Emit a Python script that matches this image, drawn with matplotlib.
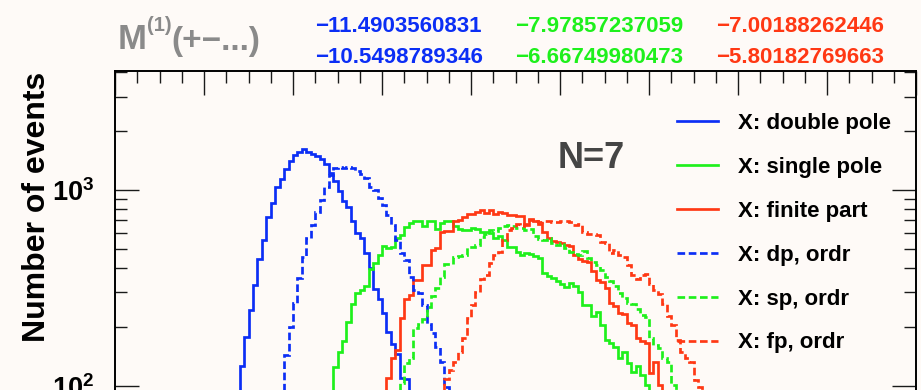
import numpy as np
import matplotlib
matplotlib.use("Agg")
import matplotlib.pyplot as plt
from matplotlib.ticker import MultipleLocator, LogLocator, NullFormatter, LogFormatterMathtext

plt.rcParams['font.family'] = ['Liberation Sans', 'DejaVu Sans']
plt.rcParams['font.weight'] = 'bold'
plt.rcParams['mathtext.fontset'] = 'custom'
plt.rcParams['mathtext.rm'] = 'Liberation Sans:bold'
plt.rcParams['mathtext.bf'] = 'Liberation Sans:bold'
plt.rcParams['mathtext.default'] = 'bf'
plt.rcParams['lines.scale_dashes'] = False

# ---- histogram binning ----
X_MIN, X_MAX = -16.0, 2.0
BIN_WIDTH = 0.1
Y_MIN, Y_MAX = 1.0, 4057.0

# ---- series: lower edge of first listed bin, then counts per bin ----
labels = ["X: double pole", "X: single pole", "X: finite part",
          "X: dp, ordr", "X: sp, ordr", "X: fp, ordr"]

dp_start = -13.2
dp_counts = [126, 178, 244, 327, 444, 555, 730, 861, 1040, 1138, 1280, 1411, 1515,
             1569, 1620, 1569, 1528, 1492, 1435, 1358, 1226, 1116, 988, 882, 816,
             697, 605, 567, 475, 398, 312, 276, 234, 189, 163, 146, 110, 108]

sp_start = -11.1
sp_counts = [125, 149, 169, 211, 261, 297, 308, 324, 395, 424,
             466, 517, 505, 512, 568, 589, 647, 678, 694, 694,
             655, 694, 694, 632, 678, 694, 694, 655, 632, 625,
             625, 640, 632, 610, 610, 603, 568, 582, 555, 511,
             511, 482, 466, 477, 471, 460, 449, 377, 364, 355,
             343, 331, 319, 335, 323, 301, 258, 258, 227, 238,
             204, 171, 165, 158, 138, 149, 131, 117, 126, 113,
             101, 92]

fp_start = -9.9
fp_counts = [109, 138, 152, 222, 277, 291, 347, 347, 414, 414,
             494, 505, 610, 617, 617, 694, 702, 728, 754, 754,
             772, 790, 763, 790, 754, 772, 763, 745, 745, 736,
             736, 663, 702, 694, 670, 610, 568, 549, 542, 536,
             524, 517, 466, 444, 434, 429, 386, 347, 339, 316,
             265, 255, 235, 232, 209, 204, 175, 169, 165, 116,
             132, 101]

dp_ordr_start = -12.2
dp_ordr_counts = [143, 200, 264, 355, 455, 568, 663, 772, 889, 1036,
                  1193, 1296, 1311, 1296, 1315, 1296, 1251, 1203, 1152, 1040,
                  1000, 910, 838, 745, 663, 555, 477, 439, 359, 308,
                  298, 258, 207, 186, 158, 132, 98]

sp_ordr_start = -9.6
sp_ordr_counts = [103, 131, 138, 197, 207, 219, 252, 287, 316, 359,
                  419, 419, 455, 460, 466, 511, 511, 524, 575, 596,
                  625, 617, 640, 655, 663, 655, 640, 640, 625, 632,
                  582, 562, 555, 568, 536, 524, 536, 505, 482, 471,
                  466, 488, 449, 429, 414, 390, 359, 343, 323, 298,
                  281, 265, 261, 247, 230, 224, 175, 161, 156, 138,
                  132, 101]

fp_ordr_start = -8.6
fp_ordr_counts = [108, 120, 132, 149, 175, 222, 258, 301, 351, 368,
                  424, 466, 482, 555, 625, 640, 670, 655, 670, 711,
                  694, 686, 694, 694, 686, 686, 694, 694, 686, 663,
                  670, 610, 596, 596, 589, 542, 536, 477, 494, 466,
                  455, 414, 368, 351, 368, 372, 331, 308, 294, 261,
                  227, 204, 171, 149, 138, 132, 107, 98]

header_label = "M"
header_sup = "(1)"
header_rest = "(+\u2212...)"
header_values = [["\u221211.4903560831", "\u221210.5498789346"],
                 ["\u22127.97857237059", "\u22126.66749980473"],
                 ["\u22127.00188262446", "\u22125.80182769663"]]
n_label = "N=7"
y_title = "Number of events"

# ---- styling ----
BLUE = '#0b2ef5'
GREEN = '#1ef01c'
RED = '#ff3814'
GRAY = '#8a8a8a'
BG = '#fefaf7'
DASH = (0, (5.5, 2.6))
LW = 1.95

W, H = 921, 390


def fx(px):
    return px / W


def fy(py):
    return 1.0 - py / H


fig = plt.figure(figsize=(W / 100, H / 100), dpi=100, facecolor=BG)
ax = fig.add_axes([fx(115), fy(777), 801 / W, 706 / H], facecolor=BG)
ax.set_yscale('log')
ax.set_xlim(X_MIN, X_MAX)
ax.set_ylim(Y_MIN, Y_MAX)

series = [
    (dp_start, dp_counts, BLUE, '-'),
    (sp_start, sp_counts, GREEN, '-'),
    (fp_start, fp_counts, RED, '-'),
    (dp_ordr_start, dp_ordr_counts, BLUE, DASH),
    (sp_ordr_start, sp_ordr_counts, GREEN, DASH),
    (fp_ordr_start, fp_ordr_counts, RED, DASH),
]

handles = []
for (start, counts, color, ls), lab in zip(series, labels):
    edges = np.round(start + BIN_WIDTH * np.arange(len(counts) + 1), 6)
    h = ax.stairs(counts, edges, baseline=Y_MIN, color=color, linestyle=ls,
                  linewidth=LW, label=lab)
    handles.append(h)

# ---- axes frame and ticks ----
for sp in ax.spines.values():
    sp.set_linewidth(1.4)
    sp.set_color('black')

ax.xaxis.set_major_locator(MultipleLocator(2))
ax.xaxis.set_minor_locator(MultipleLocator(0.5))
ax.yaxis.set_major_locator(LogLocator(base=10))
ax.yaxis.set_minor_locator(LogLocator(base=10, subs=np.arange(2, 10)))
ax.yaxis.set_major_formatter(LogFormatterMathtext())
ax.yaxis.set_minor_formatter(NullFormatter())

ax.tick_params(which='both', direction='in', top=True, right=True,
               width=1.0, color='#1a1a1a')
ax.tick_params(which='major', length=17)
ax.tick_params(which='minor', length=8.5)
ax.tick_params(axis='y', which='major', labelsize=19.5, pad=15)
ax.tick_params(axis='x', which='both', labelbottom=False)

# ---- legend ----
ax.legend(handles=handles, loc='upper left',
          bbox_to_anchor=(fx(677), fy(113)), bbox_transform=fig.transFigure,
          frameon=False, fontsize=16, handlelength=1.83, handletextpad=0.93,
          labelspacing=1.03, borderpad=0, borderaxespad=0)

# ---- texts ----
fig.text(fx(37), fy(72), y_title, rotation=90, ha='center', va='top',
         fontsize=23, fontweight='bold', color='black')

fig.text(fx(118), fy(49), header_label, ha='left', va='baseline',
         fontsize=25, fontweight='bold', color=GRAY)
fig.text(fx(146.5), fy(31), header_sup, ha='left', va='baseline',
         fontsize=14.5, fontweight='bold', color=GRAY)
fig.text(fx(171), fy(50), header_rest, ha='left', va='baseline',
         fontsize=24, fontweight='bold', color=GRAY)

for (top, bottom), xpos, col in zip(header_values, [315, 515, 716.5],
                                     [BLUE, GREEN, RED]):
    fig.text(fx(xpos), fy(32), top, ha='left', va='baseline',
             fontsize=16, fontweight='bold', color=col)
    fig.text(fx(xpos), fy(63), bottom, ha='left', va='baseline',
             fontsize=16, fontweight='bold', color=col)

fig.text(fx(558), fy(168), n_label, ha='left', va='baseline',
         fontsize=26, fontweight='bold', color='#454545')

fig.savefig('out.png', dpi=100, facecolor=BG)
